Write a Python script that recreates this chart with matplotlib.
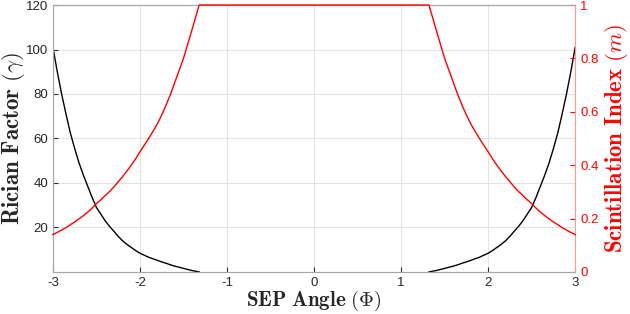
import matplotlib
matplotlib.use("Agg")
import matplotlib.pyplot as plt

plt.rcParams["mathtext.fontset"] = "cm"
plt.rcParams["font.family"] = ["Liberation Sans", "DejaVu Sans"]

# values (curve is symmetric about 0)
phi_left = [-3.0, -2.95, -2.9, -2.85, -2.8, -2.75, -2.7, -2.65, -2.6, -2.55,
            -2.5, -2.45, -2.4, -2.35, -2.3, -2.25, -2.2, -2.15, -2.1, -2.05,
            -2.0, -1.95, -1.9, -1.85, -1.8, -1.75, -1.7, -1.65, -1.6, -1.55,
            -1.5, -1.45, -1.4, -1.36, -1.32]
gamma_left = [101, 90, 80, 71, 62.5, 55.5, 49, 43.5, 38.5, 33.5,
              29, 26, 23, 20.5, 18.3, 16, 14, 12.4, 11, 9.6,
              8.4, 7.5, 6.6, 5.9, 5.2, 4.5, 3.9, 3.2, 2.6, 2.1,
              1.6, 1.1, 0.6, 0.3, 0]
m_left = [0.140, 0.148, 0.157, 0.166, 0.177, 0.187, 0.199, 0.211, 0.224, 0.239,
          0.256, 0.270, 0.286, 0.301, 0.318, 0.338, 0.357, 0.378, 0.400, 0.424,
          0.450, 0.475, 0.500, 0.527, 0.555, 0.588, 0.625, 0.665, 0.710, 0.755,
          0.800, 0.855, 0.910, 0.955, 1.0]

phi_right = [1.32, 1.36, 1.4, 1.45, 1.5, 1.55, 1.6, 1.65, 1.7, 1.75,
             1.8, 1.85, 1.9, 1.95, 2.0, 2.05, 2.1, 2.15, 2.2, 2.25,
             2.3, 2.35, 2.4, 2.45, 2.5, 2.55, 2.6, 2.65, 2.7, 2.75,
             2.8, 2.85, 2.9, 2.95, 3.0]
gamma_right = [0, 0.3, 0.6, 1.1, 1.6, 2.1, 2.6, 3.2, 3.9, 4.5,
               5.2, 5.9, 6.6, 7.5, 8.4, 9.6, 11, 12.4, 14, 16,
               18.3, 20.5, 23, 26, 29, 33.5, 38.5, 43.5, 49, 55.5,
               62.5, 71, 80, 90, 101]
m_right = [1.0, 0.955, 0.910, 0.855, 0.800, 0.755, 0.710, 0.665, 0.625, 0.588,
           0.555, 0.527, 0.500, 0.475, 0.450, 0.424, 0.400, 0.378, 0.357, 0.338,
           0.318, 0.301, 0.286, 0.270, 0.256, 0.239, 0.224, 0.211, 0.199, 0.187,
           0.177, 0.166, 0.157, 0.148, 0.140]

xticks = [-3, -2, -1, 0, 1, 2, 3]
left_ticks = [20, 40, 60, 80, 100, 120]
right_ticks = [0, 0.2, 0.4, 0.6, 0.8, 1]

spine_gray = "#a6a6a6"
spine_red = "#ff9999"
tick_txt = "#262626"

fig = plt.figure(figsize=(6.3, 3.14), dpi=100)
ax = fig.add_axes([0.084, 0.134, 0.829, 0.850])
ax2 = ax.twinx()

ax.plot(phi_left, gamma_left, color="black", lw=1.0)
ax.plot(phi_right, gamma_right, color="black", lw=1.0)
# scintillation index saturates at 1 between the two branches
ax2.plot(phi_left + phi_right, m_left + m_right, color="red", lw=1.0,
         clip_on=False, zorder=5)

ax.set_xlim(-3, 3)
ax.set_ylim(0, 120)
ax2.set_ylim(0, 1)
ax.set_xticks(xticks)
ax.set_xticklabels([str(v) for v in xticks])
ax.set_yticks(left_ticks)
ax2.set_yticks(right_ticks)
ax2.set_yticklabels(["0", "0.2", "0.4", "0.6", "0.8", "1"])

ax.grid(True, color="#e3e3e3", lw=0.8)
ax.set_axisbelow(True)

for s in ["left", "bottom", "top"]:
    ax.spines[s].set_color(spine_gray)
    ax2.spines[s].set_color(spine_gray)
ax.spines["right"].set_visible(False)
ax2.spines["right"].set_color(spine_red)

ax.tick_params(axis="both", direction="in", length=3.5, color="#333333",
               labelsize=9.5, labelcolor=tick_txt, top=False)
ax.tick_params(axis="x", pad=4)
ax2.tick_params(axis="y", direction="in", length=3.5, color="red",
                labelsize=9.5, labelcolor="red")

ax.set_xlabel(r"$\mathbf{SEP\ Angle\ (}\Phi\mathbf{)}$", fontsize=15,
              color=tick_txt, labelpad=-0.5)
ax.set_ylabel(r"$\mathbf{Rician\ Factor\ (}\gamma\mathbf{)}$", fontsize=16.5,
              color=tick_txt, labelpad=-0.5)
ax2.set_ylabel(r"$\mathbf{Scintillation\ Index\ (}m\mathbf{)}$", fontsize=16.5,
               color="red", labelpad=3.5)

fig.savefig("out.png", dpi=100)
